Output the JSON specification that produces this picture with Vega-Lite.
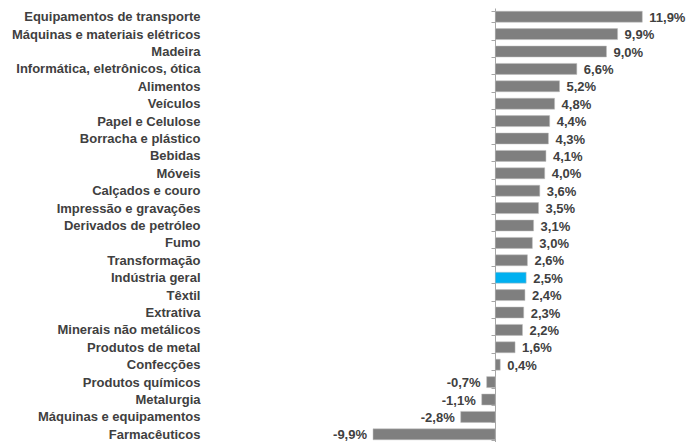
{
  "$schema": "https://vega.github.io/schema/vega-lite/v6.json",
  "width": 687,
  "height": 435,
  "autosize": "none",
  "padding": {"top": 8, "left": 0, "right": 0, "bottom": 0},
  "background": "white",
  "config": {
    "view": {"stroke": null},
    "font": "Liberation Sans",
    "locale": {
      "number": {"decimal": ",", "thousands": ".", "grouping": [3], "currency": ["R$", ""], "minus": "-"}
    }
  },
  "data": {
    "values": [
      {"setor": "Equipamentos de transporte", "variacao": 0.119},
      {"setor": "Máquinas e materiais elétricos", "variacao": 0.099},
      {"setor": "Madeira", "variacao": 0.090},
      {"setor": "Informática, eletrônicos, ótica", "variacao": 0.066},
      {"setor": "Alimentos", "variacao": 0.052},
      {"setor": "Veículos", "variacao": 0.048},
      {"setor": "Papel e Celulose", "variacao": 0.044},
      {"setor": "Borracha e plástico", "variacao": 0.043},
      {"setor": "Bebidas", "variacao": 0.041},
      {"setor": "Móveis", "variacao": 0.040},
      {"setor": "Calçados e couro", "variacao": 0.036},
      {"setor": "Impressão e gravações", "variacao": 0.035},
      {"setor": "Derivados de petróleo", "variacao": 0.031},
      {"setor": "Fumo", "variacao": 0.030},
      {"setor": "Transformação", "variacao": 0.026},
      {"setor": "Indústria geral", "variacao": 0.025},
      {"setor": "Têxtil", "variacao": 0.024},
      {"setor": "Extrativa", "variacao": 0.023},
      {"setor": "Minerais não metálicos", "variacao": 0.022},
      {"setor": "Produtos de metal", "variacao": 0.016},
      {"setor": "Confecções", "variacao": 0.004},
      {"setor": "Produtos químicos", "variacao": -0.007},
      {"setor": "Metalurgia", "variacao": -0.011},
      {"setor": "Máquinas e equipamentos", "variacao": -0.028},
      {"setor": "Farmacêuticos", "variacao": -0.099}
    ]
  },
  "encoding": {
    "y": {
      "field": "setor",
      "type": "nominal",
      "sort": null,
      "scale": {"paddingInner": 0.37, "paddingOuter": 0.185},
      "axis": {
        "title": null,
        "orient": "left",
        "offset": -495,
        "domainColor": "#a6a6a6",
        "tickColor": "#a6a6a6",
        "tickSize": 4,
        "tickBand": "extent",
        "labelPadding": 291,
        "labelFont": "Liberation Sans",
        "labelFontSize": 13,
        "labelFontWeight": "bold",
        "labelColor": "#404040",
        "labelLimit": 320
      }
    },
    "x": {
      "field": "variacao",
      "type": "quantitative",
      "scale": {"domain": [-0.401, 0.1552], "nice": false, "zero": false},
      "axis": null
    }
  },
  "layer": [
    {
      "mark": {"type": "bar", "stroke": "#bfbfbf", "strokeWidth": 0.5},
      "encoding": {
        "color": {
          "condition": {"test": "datum.setor === 'Indústria geral'", "value": "#00b0f0"},
          "value": "#7f7f7f"
        }
      }
    },
    {
      "transform": [{"filter": "datum.variacao >= 0"}],
      "mark": {"type": "text", "align": "left", "baseline": "middle", "dx": 7, "dy": 1, "font": "Liberation Sans", "fontSize": 13, "fontWeight": "bold", "color": "#404040"},
      "encoding": {"text": {"field": "variacao", "type": "quantitative", "format": ".1%"}}
    },
    {
      "transform": [{"filter": "datum.variacao < 0"}],
      "mark": {"type": "text", "align": "right", "baseline": "middle", "dx": -6, "dy": 1, "font": "Liberation Sans", "fontSize": 13, "fontWeight": "bold", "color": "#404040"},
      "encoding": {"text": {"field": "variacao", "type": "quantitative", "format": ".1%"}}
    }
  ]
}
